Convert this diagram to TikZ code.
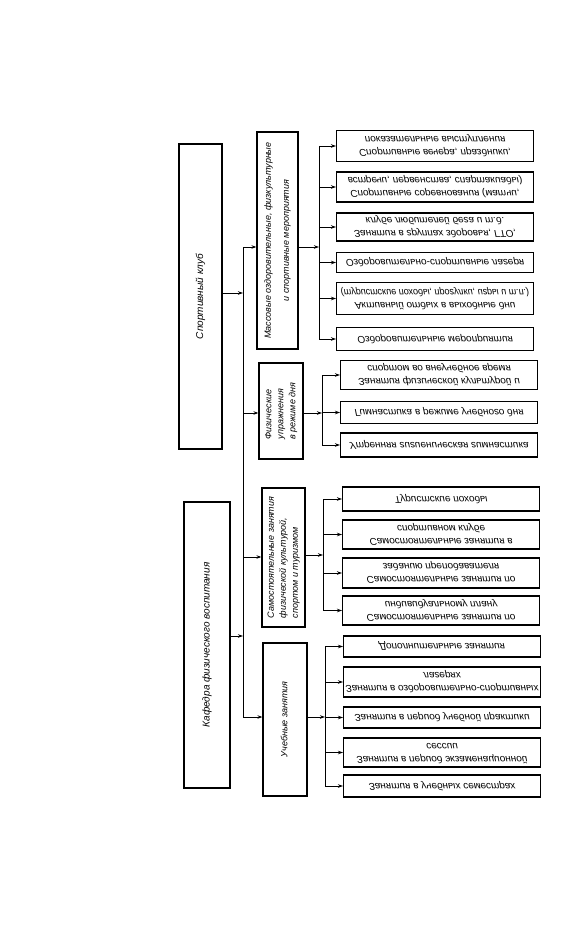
\documentclass[tikz,border=0pt]{standalone}
\usepackage{fontspec}
\setmainfont{Liberation Sans}
\usetikzlibrary{arrows.meta}
\newcommand{\fl}[1]{\scalebox{1}[-1]{\begin{tabular}{@{}c@{}}#1\end{tabular}}}
\newcommand{\rt}[2][c]{\rotatebox{90}{\begin{tabular}{@{}#1@{}}#2\end{tabular}}}
\begin{document}
\begin{tikzpicture}[x=1pt,y=-1pt,
  font=\itshape\fontsize{10}{13}\selectfont,
  box/.style={draw,line width=1.2pt,inner sep=0pt},
  midbox/.style={box,font=\itshape\fontsize{9}{12}\selectfont},
  leaf/.style={box,minimum width=197pt,anchor=west},
  conn/.style={line width=0.9pt},
  arr/.style={conn,-{Stealth[length=5pt,width=3.5pt]}}]
\useasboundingbox (0,0) rectangle (561,944);

% left boxes
\node[box,minimum width=43pt,minimum height=305pt] (club) at (200.5,296.5) {\rt{Спортивный клуб}};
\node[box,minimum width=46pt,minimum height=286pt] (kaf) at (207,645) {\rt{Кафедра физического воспитания}};

% middle boxes
\node[midbox,minimum width=41pt,minimum height=217pt] (mass) at (277.5,240.5) {\rt{Массовые оздоровительные, физкультурные\\[6pt]и спортивные мероприятия}};
\node[midbox,minimum width=44pt,minimum height=96pt] (phys) at (281,411) {\rt[l]{Физические\\упражнения\\в режиме дня}};
\node[midbox,minimum width=43pt,minimum height=139pt] (self) at (283.5,557.5) {\rt[l]{Самостоятельные занятия\\физической культурой,\\спортом и туризмом}};
\node[midbox,minimum width=44pt,minimum height=153pt] (ucheb) at (285,719.5) {\rt{Учебные занятия}};

% trunk
\coordinate (m1) at (243,247);
\coordinate (m2) at (243,413);
\coordinate (m3) at (243,557);
\coordinate (m4) at (243,717);
\coordinate (j1) at (243,293);
\coordinate (j2) at (243,636);
\draw[conn] (m1) -- (m4);
\draw[arr] (club.east |- j1) -- (j1);
\draw[arr] (kaf.east |- j2) -- (j2);
\draw[arr] (m1) -- (mass.west |- m1);
\draw[arr] (m2) -- (phys.west |- m2);
\draw[arr] (m3) -- (self.west |- m3);
\draw[arr] (m4) -- (ucheb.west |- m4);

% group 1 leaves
\node[leaf,minimum height=31pt] (l1) at (336,146) {\fl{Спортивные вечера, праздники,\\показательные выступления}};
\node[leaf,minimum height=30pt] (l2) at (336,187) {\fl{Спортивные соревнования (матчи,\\встречи, первенства, спартакиады)}};
\node[leaf,minimum height=28pt] (l3) at (336,227) {\fl{Занятия в группах здоровья, ГТО,\\клубе любителей бега и т.д.}};
\node[leaf,minimum height=20pt] (l4) at (336,262.5) {\fl{Оздоровительно-спортивные лагеря}};
\node[leaf,minimum height=32pt] (l5) at (336,298.5) {\fl{Активный отдых в выходные дни\\\scalebox{0.9}[1]{(туристские походы, прогулки, игры и т.п.)}}};
\node[leaf,minimum height=23pt] (l6) at (336,339) {\fl{Оздоровительные мероприятия}};

% group 2 leaves
\node[leaf,minimum height=29pt] (l7) at (340,375) {\fl{Занятия физической культурой и\\спортом во внеучебное время}};
\node[leaf,minimum height=22pt] (l8) at (340,412.5) {\fl{Гимнастика в режиме учебного дня}};
\node[leaf,minimum height=24pt] (l9) at (340,445) {\fl{Утренняя гигиеническая гимнастика}};

% group 3 leaves
\node[leaf,minimum height=24pt] (l10) at (342,499) {\fl{Туристские походы}};
\node[leaf,minimum height=29pt] (l11) at (342,534.5) {\fl{Самостоятельные занятия в\\спортивном клубе}};
\node[leaf,minimum height=30pt] (l12) at (342,573) {\fl{Самостоятельные занятия по\\заданию преподавателя}};
\node[leaf,minimum height=29pt] (l13) at (342,610.5) {\fl{Самостоятельные занятия по\\индивидуальному плану}};

% group 4 leaves
\node[leaf,minimum height=21pt] (l14) at (343,646.5) {\fl{Дополнительные занятия}};
\node[leaf,minimum height=30pt] (l15) at (343,682) {\fl{Занятия в оздоровительно-спортивных\\лагерях}};
\node[leaf,minimum height=21pt] (l16) at (343,717.5) {\fl{Занятия в период учебной практики}};
\node[leaf,minimum height=29pt] (l17) at (343,752.5) {\fl{Занятия в период экзаменационной\\сессии}};
\node[leaf,minimum height=22pt] (l18) at (343,786) {\fl{Занятия в учебных семестрах}};

% sub-trunks
\coordinate (s1) at (319,247);
\coordinate (s2) at (322,413);
\coordinate (s3) at (323,555);
\coordinate (s4) at (325,717);
\draw[arr] (mass.east |- s1) -- (s1);
\draw[arr] (phys.east |- s2) -- (s2);
\draw[arr] (self.east |- s3) -- (s3);
\draw[arr] (ucheb.east |- s4) -- (s4);
\draw[conn] (s1 |- l1.west) -- (s1 |- l6.west);
\draw[conn] (s2 |- l7.west) -- (s2 |- l9.west);
\draw[conn] (s3 |- l10.west) -- (s3 |- l13.west);
\draw[conn] (s4 |- l14.west) -- (s4 |- l18.west);
\foreach \l in {l1,l2,l3,l4,l5,l6} \draw[arr] (s1 |- \l.west) -- (\l.west);
\foreach \l in {l7,l8,l9} \draw[arr] (s2 |- \l.west) -- (\l.west);
\foreach \l in {l10,l11,l12,l13} \draw[arr] (s3 |- \l.west) -- (\l.west);
\foreach \l in {l14,l15,l16,l17,l18} \draw[arr] (s4 |- \l.west) -- (\l.west);
\end{tikzpicture}
\end{document}
